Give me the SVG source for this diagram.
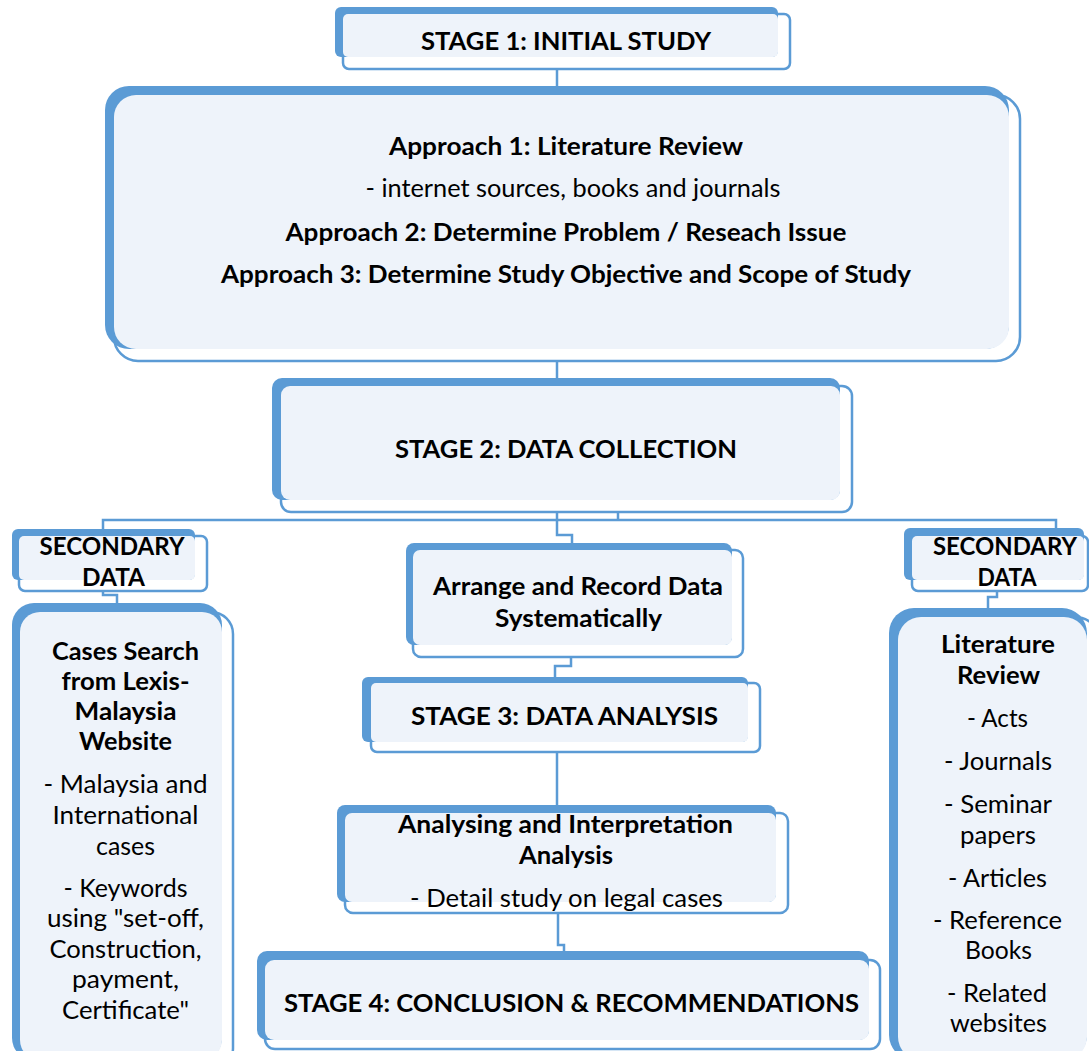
<svg xmlns="http://www.w3.org/2000/svg" width="1089" height="1051" viewBox="0 0 1089 1051">
<style>
.ol{fill:#fff;stroke:#5B9BD5;stroke-width:2.5}
.bk{fill:#5B9BD5}
.lt{fill:#EEF3FA}
.cn{fill:none;stroke:#5B9BD5;stroke-width:2.5}
text{font-family:Lato,"Open Sans","Liberation Sans",sans-serif;font-size:25.5px;fill:#000;text-anchor:middle}
.b{font-weight:700}
</style>
<rect width="1089" height="1051" fill="#fff"/>
<g id="connectors">
<path class="cn" d="M557,69V86"/>
<path class="cn" d="M557,361V378"/>
<path class="cn" d="M557,512V535H572V543"/>
<path class="cn" d="M618,512V520"/>
<path class="cn" d="M103,529V520H1056V528"/>
<path class="cn" d="M103,591V595H117V603"/>
<path class="cn" d="M997,591V597H988V608"/>
<path class="cn" d="M571,657V666H555V677"/>
<path class="cn" d="M557,752V805"/>
<path class="cn" d="M558,913V945H564V951"/>
</g>
<g id="stage1">
<rect class="ol" x="343" y="14" width="447" height="55" rx="6"/>
<rect class="bk" x="335" y="7" width="443" height="50" rx="6"/>
<rect class="lt" x="343" y="14" width="435" height="43" rx="5"/>
<text class="b" x="566" y="50" textLength="290" lengthAdjust="spacingAndGlyphs">STAGE 1: INITIAL STUDY</text>
</g>
<g id="approaches">
<rect class="ol" x="114" y="95" width="906" height="266" rx="24"/>
<rect class="bk" x="105" y="86" width="904" height="263" rx="24"/>
<rect class="lt" x="114" y="95" width="895" height="254" rx="22"/>
<text class="b" x="566" y="155" textLength="354" lengthAdjust="spacingAndGlyphs">Approach 1: Literature Review</text>
<text x="573" y="197" textLength="415" lengthAdjust="spacingAndGlyphs">- internet sources, books and journals</text>
<text class="b" x="566" y="241" textLength="561" lengthAdjust="spacingAndGlyphs">Approach 2: Determine Problem / Reseach Issue</text>
<text class="b" x="566" y="283" textLength="690" lengthAdjust="spacingAndGlyphs">Approach 3: Determine Study Objective and Scope of Study</text>
</g>
<g id="stage2">
<rect class="ol" x="281" y="386" width="571" height="126" rx="10"/>
<rect class="bk" x="272" y="378" width="568" height="122" rx="10"/>
<rect class="lt" x="281" y="386" width="559" height="114" rx="9"/>
<text class="b" x="566" y="458" textLength="342" lengthAdjust="spacingAndGlyphs">STAGE 2: DATA COLLECTION</text>
</g>
<g id="secondary-left">
<rect class="ol" x="19" y="536" width="188" height="55" rx="6"/>
<rect class="bk" x="12" y="529" width="183" height="51" rx="6"/>
<rect class="lt" x="19" y="536" width="176" height="44" rx="5"/>
<text class="b" x="112" y="555" textLength="145" lengthAdjust="spacingAndGlyphs">SECONDARY</text>
<text class="b" x="113.5" y="586" textLength="63" lengthAdjust="spacingAndGlyphs">DATA</text>
</g>
<g id="secondary-right">
<rect class="ol" x="912" y="536" width="176" height="55" rx="6"/>
<rect class="bk" x="904" y="528" width="180" height="52" rx="6"/>
<rect class="lt" x="912" y="536" width="172" height="44" rx="5"/>
<text class="b" x="1005" y="555" textLength="144" lengthAdjust="spacingAndGlyphs">SECONDARY</text>
<text class="b" x="1007" y="586" textLength="59" lengthAdjust="spacingAndGlyphs">DATA</text>
</g>
<g id="cases">
<rect class="ol" x="20" y="612" width="213" height="458" rx="22"/>
<rect class="bk" x="12" y="603" width="210" height="457" rx="22"/>
<rect class="lt" x="20" y="612" width="202" height="448" rx="20"/>
<text class="b" x="125.5" y="660" textLength="147" lengthAdjust="spacingAndGlyphs">Cases Search</text>
<text class="b" x="125.5" y="690" textLength="128" lengthAdjust="spacingAndGlyphs">from Lexis-</text>
<text class="b" x="125.5" y="720" textLength="102" lengthAdjust="spacingAndGlyphs">Malaysia</text>
<text class="b" x="125.5" y="750" textLength="93" lengthAdjust="spacingAndGlyphs">Website</text>
<text x="125.5" y="793" textLength="164" lengthAdjust="spacingAndGlyphs">- Malaysia and</text>
<text x="125.5" y="824" textLength="146" lengthAdjust="spacingAndGlyphs">International</text>
<text x="125.5" y="855" textLength="59" lengthAdjust="spacingAndGlyphs">cases</text>
<text x="125.5" y="897" textLength="124" lengthAdjust="spacingAndGlyphs">- Keywords</text>
<text x="125.5" y="927" textLength="157" lengthAdjust="spacingAndGlyphs">using "set-off,</text>
<text x="125.5" y="958" textLength="152" lengthAdjust="spacingAndGlyphs">Construction,</text>
<text x="125.5" y="988" textLength="107" lengthAdjust="spacingAndGlyphs">payment,</text>
<text x="125.5" y="1019" textLength="127" lengthAdjust="spacingAndGlyphs">Certificate"</text>
</g>
<g id="arrange">
<rect class="ol" x="413" y="550" width="330" height="107" rx="8"/>
<rect class="bk" x="406" y="543" width="326" height="102" rx="8"/>
<rect class="lt" x="413" y="550" width="319" height="95" rx="7"/>
<text class="b" x="578" y="595" textLength="290" lengthAdjust="spacingAndGlyphs">Arrange and Record Data</text>
<text class="b" x="578.5" y="627" textLength="167" lengthAdjust="spacingAndGlyphs">Systematically</text>
</g>
<g id="stage3">
<rect class="ol" x="371" y="683" width="389" height="69" rx="6"/>
<rect class="bk" x="362" y="677" width="386" height="65" rx="6"/>
<rect class="lt" x="371" y="683" width="377" height="59" rx="5"/>
<text class="b" x="564.5" y="725" textLength="307" lengthAdjust="spacingAndGlyphs">STAGE 3: DATA ANALYSIS</text>
</g>
<g id="analysing">
<rect class="ol" x="345" y="813" width="443" height="100" rx="8"/>
<rect class="bk" x="337" y="805" width="439" height="97" rx="8"/>
<rect class="lt" x="345" y="813" width="431" height="89" rx="7"/>
<text class="b" x="565.5" y="833" textLength="335" lengthAdjust="spacingAndGlyphs">Analysing and Interpretation</text>
<text class="b" x="566" y="864" textLength="94" lengthAdjust="spacingAndGlyphs">Analysis</text>
<text x="566.5" y="907" textLength="313" lengthAdjust="spacingAndGlyphs">- Detail study on legal cases</text>
</g>
<g id="stage4">
<rect class="ol" x="265" y="960" width="615" height="89" rx="10"/>
<rect class="bk" x="257" y="951" width="612" height="89" rx="10"/>
<rect class="lt" x="265" y="960" width="604" height="80" rx="9"/>
<text class="b" x="571.5" y="1012" textLength="575" lengthAdjust="spacingAndGlyphs">STAGE 4: CONCLUSION &amp; RECOMMENDATIONS</text>
</g>
<g id="literature">
<rect class="ol" x="898" y="617" width="202" height="453" rx="25"/>
<rect class="bk" x="889" y="608" width="198" height="452" rx="25"/>
<rect class="lt" x="898" y="617" width="189" height="443" rx="23"/>
<text class="b" x="998" y="653" textLength="114" lengthAdjust="spacingAndGlyphs">Literature</text>
<text class="b" x="998.5" y="684" textLength="83" lengthAdjust="spacingAndGlyphs">Review</text>
<text x="997.5" y="727" textLength="61" lengthAdjust="spacingAndGlyphs">- Acts</text>
<text x="998" y="770" textLength="108" lengthAdjust="spacingAndGlyphs">- Journals</text>
<text x="998" y="813" textLength="108" lengthAdjust="spacingAndGlyphs">- Seminar</text>
<text x="998" y="844" textLength="76" lengthAdjust="spacingAndGlyphs">papers</text>
<text x="997.5" y="887" textLength="99" lengthAdjust="spacingAndGlyphs">- Articles</text>
<text x="997.5" y="929" textLength="129" lengthAdjust="spacingAndGlyphs">- Reference</text>
<text x="998.5" y="959" textLength="67" lengthAdjust="spacingAndGlyphs">Books</text>
<text x="997" y="1002" textLength="100" lengthAdjust="spacingAndGlyphs">- Related</text>
<text x="998.5" y="1032" textLength="97" lengthAdjust="spacingAndGlyphs">websites</text>
</g>
</svg>
